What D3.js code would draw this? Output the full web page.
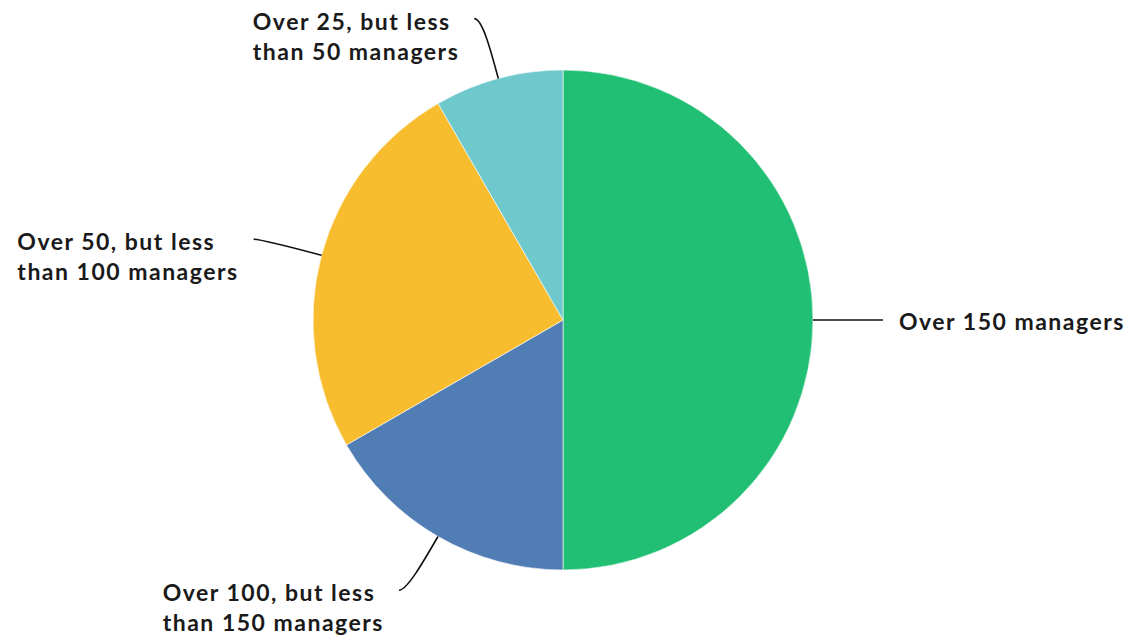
<!DOCTYPE html>
<html>
<head>
<meta charset="utf-8">
<script src="https://cdn.jsdelivr.net/npm/d3@7"></script>
<style>
  html, body { margin: 0; padding: 0; background: #fff; }
  svg { display: block; }
  .label { font-family: Lato, "Open Sans", sans-serif; font-weight: 700; font-size: 23px; letter-spacing: 1.5px; fill: #1a1a1a; }
</style>
</head>
<body>
<svg id="chart" width="1130" height="636"></svg>
<script>
// Share of respondents by number of managers (clockwise from 12 o'clock)
const categories = [
  "Over 150 managers",
  "Over 100, but less than 150 managers",
  "Over 50, but less than 100 managers",
  "Over 25, but less than 50 managers"
];
const labelLines = [
  ["Over 150 managers"],
  ["Over 100, but less", "than 150 managers"],
  ["Over 50, but less", "than 100 managers"],
  ["Over 25, but less", "than 50 managers"]
];
const shares = [50, 16.67, 25, 8.33];
const colors = ["#21bf73", "#517db5", "#f7bd2e", "#6fc8cb"];

const width = 1130, height = 636;
const cx = 563, cy = 320, R = 250;

const svg = d3.select("#chart");
const g = svg.append("g").attr("transform", `translate(${cx},${cy})`);

const pie = d3.pie().sort(null).value(d => d);
const arcs = pie(shares);
const arc = d3.arc().innerRadius(0).outerRadius(R);

g.selectAll("path.slice")
  .data(arcs)
  .join("path")
  .attr("class", "slice")
  .attr("d", arc)
  .attr("fill", (d, i) => colors[i])
  .attr("stroke", "#ffffff")
  .attr("stroke-width", 0.6);

// Point on a ray from the centre at angle a (radians, clockwise from top)
const polar = (a, r) => [r * Math.sin(a), -r * Math.cos(a)];

arcs.forEach((d, i) => {
  const mid = (d.startAngle + d.endAngle) / 2;
  const side = Math.sin(mid) >= 0 ? 1 : -1;
  const p0 = polar(mid, R);
  const p1 = polar(mid, R + 30);
  const p2 = polar(mid, R + 62);
  const p3 = [p2[0] + side * 8, p2[1]];

  const path = d3.path();
  path.moveTo(p0[0], p0[1]);
  path.bezierCurveTo(p1[0], p1[1], p2[0], p2[1], p3[0], p3[1]);
  g.append("path")
    .attr("d", path.toString())
    .attr("fill", "none")
    .attr("stroke", "#111")
    .attr("stroke-width", 1.6);

  const lines = labelLines[i];
  const text = g.append("text").attr("class", "label");
  const firstBaseline = p3[1] + (lines.length > 1 ? 11 : 9.5);
  const spans = text.selectAll("tspan")
    .data(lines)
    .join("tspan")
    .attr("y", (l, k) => firstBaseline + k * 30)
    .text(l => l);
  const blockWidth = d3.max(spans.nodes(), n => n.getComputedTextLength());
  const x0 = side > 0 ? p3[0] + 16 : p3[0] - 15 - blockWidth;
  spans.attr("x", x0);
});
</script>
</body>
</html>
